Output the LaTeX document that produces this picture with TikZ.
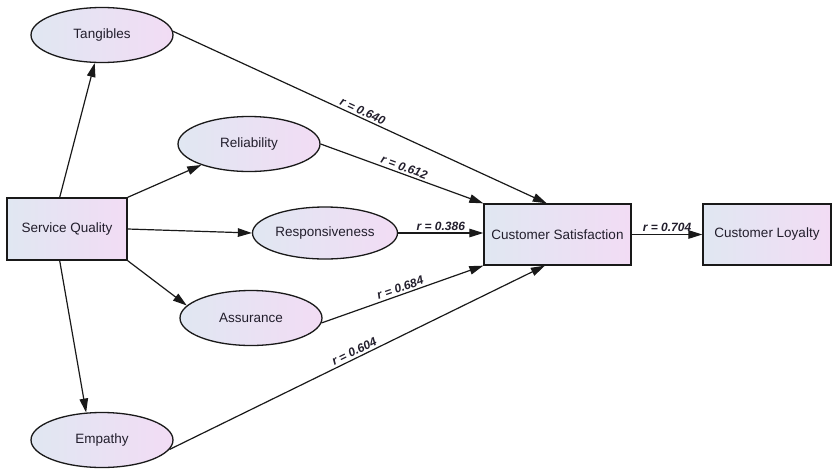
\documentclass[tikz,border=0pt]{standalone}
\usepackage{fontspec}
\setmainfont{Liberation Sans}
\usepackage{tikz}
\usetikzlibrary{shapes,arrows.meta,calc}
\definecolor{shadeleft}{RGB}{224,231,242}
\definecolor{shaderight}{RGB}{242,220,244}
\definecolor{textgrey}{RGB}{34,30,44}
\definecolor{edgegrey}{RGB}{25,25,25}

\begin{document}
\begin{tikzpicture}[x=1pt, y=-1pt,
    obs/.style={draw=edgegrey, line width=1.3pt, left color=shadeleft, right color=shaderight,
              minimum width=120pt, minimum height=62pt, inner sep=0pt, text=textgrey,
              font=\fontsize{13.5}{15}\selectfont},
    dim/.style={ellipse, draw=edgegrey, line width=1.3pt, left color=shadeleft, right color=shaderight,
              minimum width=142pt, minimum height=55pt, inner sep=0pt, text=textgrey,
              font=\fontsize{13.5}{15}\selectfont},
    lbl/.style={midway, above, sloped, inner sep=2pt, text=textgrey,
              font=\fontsize{12}{13}\selectfont\bfseries\itshape},
    arr/.style={-{Triangle[length=14pt,width=8.5pt]}, line width=1.2pt, draw=edgegrey}]
\useasboundingbox (0,0) rectangle (833,469);
\node[dim] (tan) at (102,35) {Tangibles};
\node[dim] (rel) at (249,144) {Reliability};
\node[dim, minimum width=145pt, minimum height=52pt] (resp) at (325,233) {Responsiveness};
\node[dim] (ass) at (251,318) {Assurance};
\node[dim] (emp) at (102,440) {Empathy};
\node[obs] (sq) at (67,229) {Service Quality};
\node[obs, minimum width=147pt, minimum height=61pt] (cs) at (557.5,234.5) {Customer Satisfaction};
\node[obs, minimum width=128pt, minimum height=61pt] (cl) at (767,234.5) {Customer Loyalty};
% service quality to its dimensions
\draw[arr] (sq.103) -- (tan);
\draw[arr] (sq.north east) -- (rel);
\draw[arr] (sq.east) -- (resp.west);
\draw[arr] (sq.south east) -- (ass.169);
\draw[arr] (sq.257) -- (emp.120);
% dimensions to satisfaction
\draw[arr] (tan.3) -- (cs.109) node[lbl] {r = 0.640};
\draw[arr] (rel.east) -- (cs.north west) node[lbl] {r = 0.612};
\draw[arr] (resp.east) -- (resp.east -| cs.west) node[lbl] {r = 0.386};
\draw[arr] (ass.-4) -- (cs.south west) node[lbl] {r = 0.684};
\draw[arr] (emp.-8) -- (cs.248) node[lbl] {r = 0.604};
\draw[arr] (cs.east) -- (cl.west) node[lbl] {r = 0.704};
\end{tikzpicture}
\end{document}
